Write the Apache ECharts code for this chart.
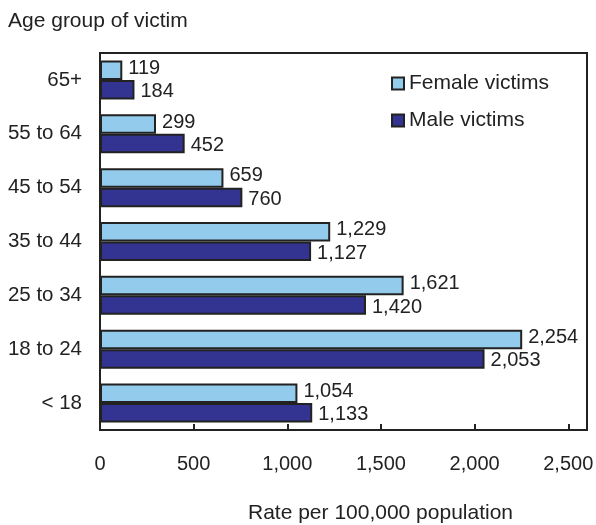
<!DOCTYPE html>
<html>
<head>
<meta charset="utf-8">
<script src="https://cdn.jsdelivr.net/npm/echarts@6/dist/echarts.min.js"></script>
<style>html,body{margin:0;padding:0;background:#fff;}#c{width:596px;height:525px;}</style>
</head>
<body>
<div id="c"></div>
<script>
const categories = ['< 18', '18 to 24', '25 to 34', '35 to 44', '45 to 54', '55 to 64', '65+'];
const femaleVictims = [1054, 2254, 1621, 1229, 659, 299, 119];
const maleVictims = [1133, 2053, 1420, 1127, 760, 452, 184];
const seriesNames = ['Female victims', 'Male victims'];
const yTitle = 'Age group of victim';
const xTitle = 'Rate per 100,000 population';

const numFont = "'Liberation Sans Narrow', 'Arial Narrow', 'Liberation Sans', Arial, sans-serif";
const regular = "'Liberation Sans', Arial, Helvetica, sans-serif";
const fmt = v => Number(v).toLocaleString('en-US');

const chart = echarts.init(document.getElementById('c'));
chart.setOption({
  backgroundColor: '#fff',
  animation: false,
  title: [
    { text: yTitle, left: 3, top: 6, textStyle: { fontFamily: regular, fontSize: 21, fontWeight: 'normal', color: '#222' } },
    { text: xTitle, left: 243, top: 498, textStyle: { fontFamily: regular, fontSize: 21, fontWeight: 'normal', color: '#222' } }
  ],
  legend: {
    orient: 'vertical', left: 386, top: 68,
    itemWidth: 12, itemHeight: 12, itemGap: 16,
    icon: 'rect',
    data: seriesNames,
    textStyle: { fontFamily: regular, fontSize: 21, color: '#222' }
  },
  grid: { left: 100, right: 9, top: 53, bottom: 95, show: true, borderColor: '#222', borderWidth: 2, containLabel: false, outerBoundsMode: 'none' },
  xAxis: {
    type: 'value', min: 0, max: 2600, interval: 500,
    axisLine: { show: true, lineStyle: { color: '#222', width: 2 } },
    axisTick: { show: true, inside: true, length: 6, lineStyle: { color: '#222', width: 2 } },
    splitLine: { show: false },
    axisLabel: { margin: 24, fontFamily: numFont, fontSize: 20, color: '#222', formatter: v => v > 2500 ? '' : fmt(v) }
  },
  yAxis: {
    type: 'category', data: categories,
    axisLine: { show: true, lineStyle: { color: '#222', width: 2 } },
    axisTick: { show: false },
    axisLabel: { margin: 18, fontFamily: numFont, fontSize: 20.5, color: '#222' }
  },
  series: [
    {
      name: seriesNames[0], type: 'bar', data: femaleVictims, barWidth: 19.5, barGap: '0%',
      itemStyle: { color: '#92CBEB', borderColor: '#222', borderWidth: 2 },
      label: { show: true, position: 'right', distance: 6, offset: [0, -2], fontFamily: numFont, fontSize: 20, color: '#222', formatter: p => fmt(p.value) }
    },
    {
      name: seriesNames[1], type: 'bar', data: maleVictims, barWidth: 19.5, barGap: '0%',
      itemStyle: { color: '#333391', borderColor: '#222', borderWidth: 2 },
      label: { show: true, position: 'right', distance: 6, offset: [0, 2], fontFamily: numFont, fontSize: 20, color: '#222', formatter: p => fmt(p.value) }
    }
  ]
});
</script>
</body>
</html>
